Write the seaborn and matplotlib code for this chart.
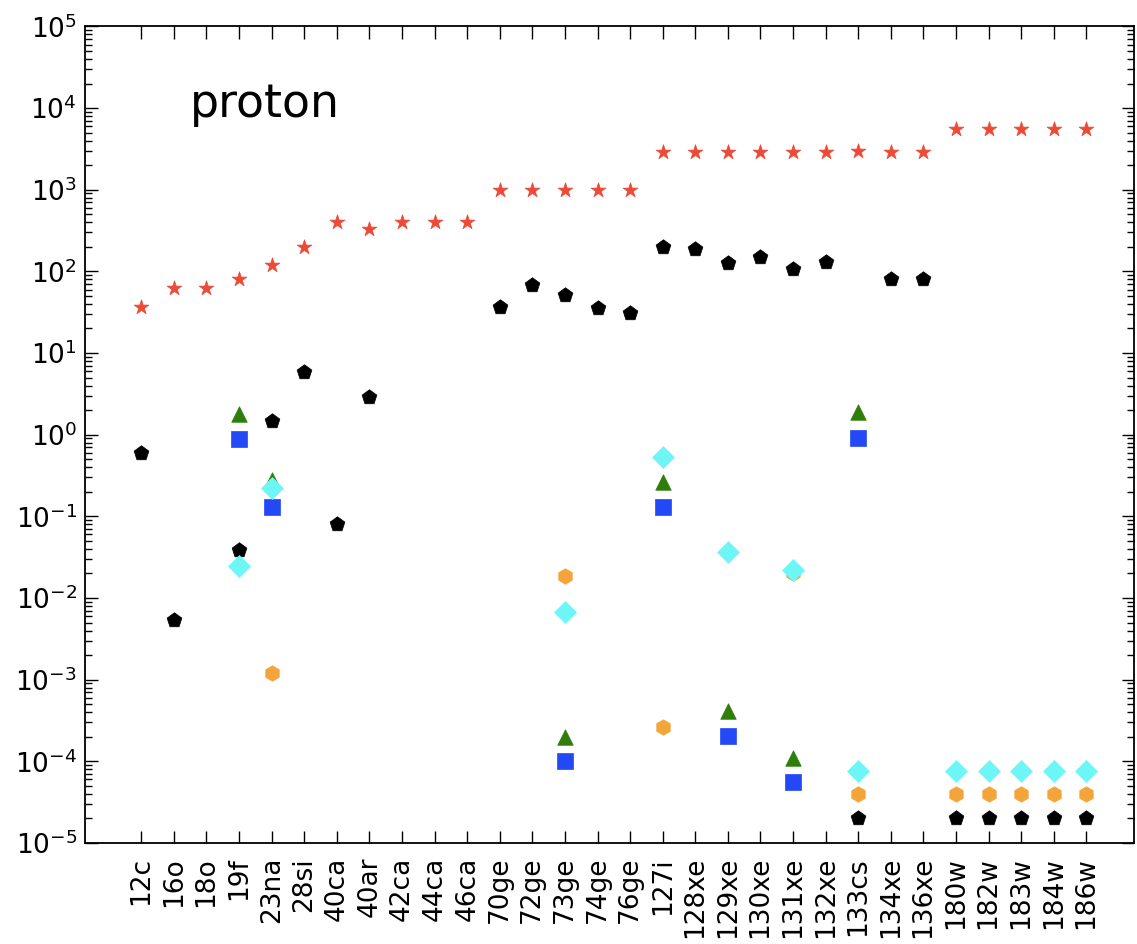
import numpy as np
import pandas as pd
import matplotlib
matplotlib.use("Agg")
import matplotlib.pyplot as plt
import matplotlib.ticker as mticker
import seaborn as sns

nan = np.nan

# nucleos (eje x)
nuclei = ["12c", "16o", "18o", "19f", "23na", "28si", "40ca", "40ar", "42ca", "44ca",
          "46ca", "70ge", "72ge", "73ge", "74ge", "76ge", "127i", "128xe", "129xe", "130xe",
          "131xe", "132xe", "133cs", "134xe", "136xe", "180w", "182w", "183w", "184w", "186w"]

# series
red_stars = [37, 63, 63, 80, 120, 200, 400, 330, 400, 400,
             400, 1000, 1000, 1000, 1000, 1000, 2900, 2900, 2900, 2900,
             2900, 2900, 3000, 2900, 2900, 5600, 5600, 5600, 5600, 5600]
black_pent = [0.6, 0.0054, nan, 0.039, 1.48, 5.9, 0.081, 2.9, nan, nan,
              nan, 37, 69, 52, 36, 31, 200, 190, 128, 152,
              107, 132, 2e-5, 81, 81, 2e-5, 2e-5, 2e-5, 2e-5, 2e-5]
green_tri = [nan, nan, nan, 1.8, 0.28, nan, nan, nan, nan, nan,
             nan, nan, nan, 2.0e-4, nan, nan, 0.26, nan, 4.1e-4, nan,
             1.1e-4, nan, 1.9, nan, nan, nan, nan, nan, nan, nan]
blue_sq = [nan, nan, nan, 0.89, 0.13, nan, nan, nan, nan, nan,
           nan, nan, nan, 1.0e-4, nan, nan, 0.13, nan, 2.05e-4, nan,
           5.6e-5, nan, 0.92, nan, nan, nan, nan, nan, nan, nan]
orange_hex = [nan, nan, nan, nan, 0.0012, nan, nan, nan, nan, nan,
              nan, nan, nan, 0.0187, nan, nan, 2.6e-4, nan, nan, nan,
              0.020, nan, 4e-5, nan, nan, 4e-5, 4e-5, 4e-5, 4e-5, 4e-5]
cyan_dia = [nan, nan, nan, 0.025, 0.22, nan, nan, nan, nan, nan,
            nan, nan, nan, 0.0068, nan, nan, 0.54, nan, 0.037, nan,
            0.022, nan, 7.6e-5, nan, nan, 7.6e-5, 7.6e-5, 7.6e-5, 7.6e-5, 7.6e-5]

series = [
    (red_stars, "*", "#ec4a36"),
    (black_pent, "p", "black"),
    (green_tri, "^", "#2f7d0b"),
    (blue_sq, "s", "#2349f7"),
    (orange_hex, "h", "#f4a53a"),
    (cyan_dia, "D", "#6ef6f6"),
]

x = np.arange(len(nuclei))

fig = plt.figure(figsize=(11.37, 9.44), dpi=100)
ax = fig.add_axes([0.075, 0.107, 0.922, 0.865])

for vals, marker, color in series:
    df = pd.DataFrame({"x": x, "y": vals}).dropna()
    sns.scatterplot(data=df, x="x", y="y", marker=marker, color=color, s=125,
                    edgecolor=color, linewidth=0.5, ax=ax, zorder=3)

ax.set_yscale("log")
ax.set_ylim(1e-5, 1e5)
ax.yaxis.set_major_locator(mticker.LogLocator(base=10, numticks=20))
ax.yaxis.set_minor_locator(mticker.LogLocator(base=10, subs=np.arange(2, 10), numticks=20))
ax.yaxis.set_minor_formatter(mticker.NullFormatter())
ax.set_xlim(-1.72, 30.45)
ax.set_xticks(x)
ax.set_xticklabels(nuclei, rotation=90, fontsize=19)
ax.set_xlabel("")
ax.set_ylabel("")
ax.tick_params(axis="y", labelsize=19, pad=6)
ax.tick_params(axis="x", pad=10)
ax.tick_params(which="both", direction="in", top=True, right=True)
ax.tick_params(which="major", length=9, width=1)
ax.tick_params(which="minor", length=5, width=1)
for sp in ax.spines.values():
    sp.set_linewidth(1.3)

ax.text(0.1, 0.905, "proton", transform=ax.transAxes, fontsize=33, ha="left", va="center")

plt.savefig("out.png", dpi=100)
